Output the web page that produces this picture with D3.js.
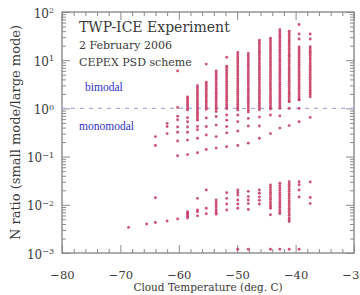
<!DOCTYPE html>
<html><head><meta charset="utf-8">
<script src="https://cdn.jsdelivr.net/npm/d3@7"></script>
<style>
html,body{margin:0;padding:0;background:#fff;}
svg{display:block;}
</style></head>
<body>
<svg id="chart" width="360" height="295"></svg>
<script>
// ---- data ----
const temperatures = [-68.6, -65.5, -64.0, -62.0, -60.2, -58.5, -56.8, -55.3, -53.6, -51.8, -49.9, -48.1, -46.2, -44.3, -42.7, -41.1, -39.4, -37.5];
const ratioColumns = [
  [0.0034],
  [0.0040],
  [0.26, 0.17, 0.014, 0.0043],
  [0.49, 0.42, 0.30, 0.0046],
  [6.0, 1.05, 0.69, 0.58, 0.41, 0.32, 0.21, 0.104, 0.0051],
  [1.73, 1.6, 1.46, 1.33, 1.21, 1.1, 1.0, 0.93, 0.64, 0.53, 0.41, 0.32, 0.22, 0.11, 0.0072, 0.0067, 0.0062, 0.0057, 0.0053],
  [2.95, 2.68, 2.42, 2.2, 2.0, 1.82, 1.65, 1.5, 1.36, 1.23, 1.12, 1.02, 0.92, 0.83, 0.76, 0.69, 0.62, 0.57, 0.42, 0.36, 0.24, 0.12, 0.0136, 0.0078, 0.0072, 0.0059],
  [8.3, 3.5, 3.15, 2.85, 2.6, 2.35, 2.12, 1.92, 1.74, 1.57, 1.42, 1.29, 1.17, 1.06, 0.96, 0.63, 0.42, 0.28, 0.14, 0.0203, 0.0085, 0.0065],
  [6.0, 5.4, 4.9, 4.4, 4.0, 3.6, 3.25, 2.95, 2.65, 2.4, 2.17, 1.96, 1.77, 1.6, 1.45, 1.31, 1.18, 1.07, 0.97, 0.86, 0.68, 0.45, 0.26, 0.15, 0.0126, 0.0112, 0.0099, 0.0088, 0.0078, 0.0070, 0.0064],
  [11.5, 7.5, 6.8, 6.1, 5.5, 5.0, 4.5, 4.05, 3.65, 3.3, 2.98, 2.7, 2.43, 2.2, 1.98, 1.79, 1.62, 1.46, 1.32, 1.19, 1.08, 0.98, 0.73, 0.57, 0.42, 0.31, 0.16, 0.0178, 0.0136, 0.0104, 0.0078],
  [14.5, 13.1, 11.8, 10.6, 9.6, 8.7, 7.8, 7.05, 6.35, 5.75, 5.2, 4.7, 4.2, 3.8, 3.45, 3.1, 2.8, 2.52, 2.28, 2.05, 1.85, 1.67, 1.5, 1.36, 1.22, 1.1, 1.0, 0.93, 0.73, 0.53, 0.34, 0.17, 0.0203, 0.018, 0.016, 0.0126, 0.0104, 0.0085, 0.0012],
  [13.8, 12.4, 11.2, 10.1, 9.1, 8.2, 7.4, 6.65, 6.0, 5.4, 4.9, 4.4, 3.95, 3.57, 3.22, 2.9, 2.6, 2.35, 2.12, 1.91, 1.72, 1.55, 1.4, 1.26, 1.14, 1.03, 0.93, 0.84, 0.62, 0.43, 0.19, 0.019, 0.0148, 0.0126, 0.0106, 0.0080, 0.0012],
  [26, 23.4, 21.1, 19, 17.1, 15.4, 13.9, 12.5, 11.3, 10.2, 9.2, 8.3, 7.5, 6.75, 6.1, 5.5, 4.95, 4.45, 4.0, 3.6, 3.25, 2.93, 2.64, 2.38, 2.15, 1.94, 1.75, 1.58, 1.42, 1.28, 1.15, 1.04, 0.94, 0.66, 0.43, 0.24, 0.0203, 0.0174, 0.0146, 0.0124, 0.0104],
  [28.5, 25.7, 23.1, 20.8, 18.8, 16.9, 15.2, 13.7, 12.4, 11.2, 10.1, 9.1, 8.2, 7.4, 6.65, 6.0, 5.4, 4.87, 4.4, 3.96, 3.57, 3.22, 2.9, 2.61, 2.36, 2.12, 1.91, 1.72, 1.55, 1.4, 1.26, 1.14, 1.03, 0.97, 0.73, 0.30, 0.0258, 0.023, 0.0205, 0.0183, 0.0163, 0.0146, 0.013, 0.0116, 0.0104, 0.0093, 0.0085, 0.0062, 0.0012],
  [43, 38.7, 34.9, 31.4, 28.3, 25.5, 23, 20.7, 18.7, 16.8, 15.2, 13.7, 12.3, 11.1, 10.0, 9.0, 8.1, 7.3, 6.6, 5.95, 5.35, 4.82, 4.35, 3.92, 3.53, 3.18, 2.87, 2.58, 2.33, 2.1, 1.89, 1.7, 1.53, 1.38, 1.25, 1.12, 1.01, 0.70, 0.39, 0.028, 0.025, 0.0223, 0.0199, 0.0177, 0.0158, 0.0141, 0.0126, 0.0112, 0.01, 0.0089, 0.0079, 0.0071, 0.0066, 0.0012],
  [40, 36, 32.5, 29.3, 26.4, 23.8, 21.4, 19.3, 17.4, 15.7, 14.1, 12.7, 11.5, 10.3, 9.3, 8.4, 7.55, 6.8, 6.15, 5.55, 5.0, 4.5, 4.05, 3.65, 3.3, 2.97, 2.68, 2.41, 2.17, 1.96, 1.77, 1.59, 1.43, 1.37, 1.0, 0.44, 0.030, 0.0268, 0.0239, 0.0213, 0.019, 0.017, 0.0152, 0.0135, 0.012, 0.0107, 0.0096, 0.0085, 0.0076, 0.0068, 0.0061, 0.0054, 0.0049, 0.0045, 0.0012],
  [55, 35, 27.5, 18.8, 17, 15.3, 13.8, 12.4, 11.2, 10.1, 9.1, 8.2, 7.4, 6.65, 6.0, 5.4, 4.87, 4.4, 3.96, 3.57, 3.22, 2.9, 2.61, 2.36, 2.12, 1.91, 1.72, 1.55, 1.49, 1.0, 0.53, 0.030, 0.026, 0.0203, 0.0145, 0.0012],
  [35, 27.5, 19, 17.1, 15.4, 13.9, 12.5, 11.3, 10.2, 9.2, 8.3, 7.5, 6.75, 6.1, 5.5, 4.95, 4.45, 4.0, 3.6, 3.25, 2.93, 2.64, 2.38, 2.15, 1.94, 1.75, 0.65, 0.0297, 0.0142, 0.0106]
];
const xMajorTicks = [-80, -70, -60, -50, -40, -30];
const yMajorTicks = [1e-3, 1e-2, 1e-1, 1e0, 1e1, 1e2];
const yExponents = ["−3", "−2", "−1", "0", "1", "2"];
const titleLines = ["TWP-ICE Experiment", "2 February 2006", "CEPEX PSD scheme"];
const regimeLabels = ["bimodal", "monomodal"];
const thresholdRatio = 1;

// ---- layout ----
const svg = d3.select("#chart");
const L = 62, R = 354, T = 12, B = 253;
const x = d3.scaleLinear().domain([-80, -30]).range([L, R]);
const y = d3.scaleLog().domain([1e-3, 1e2]).range([B, T]);

const frameColor = "#8a8a8a";
const textColor = "#3a3a3a";
const serif = "'DejaVu Serif', serif";

const xMinor = d3.range(-80, -29, 2).filter(v => v % 10 !== 0);
const yMinor = [];
[-3, -2, -1, 0, 1].forEach(k => { for (let m = 2; m <= 9; m++) yMinor.push(m * Math.pow(10, k)); });

function styleAxis(g) {
  g.select(".domain").remove();
  g.selectAll(".tick line").attr("stroke", frameColor).attr("stroke-width", 1);
}

// minor ticks
svg.append("g").attr("transform", `translate(0,${B})`)
  .call(d3.axisBottom(x).tickValues(xMinor).tickSize(-4).tickFormat("")).call(styleAxis);
svg.append("g").attr("transform", `translate(0,${T})`)
  .call(d3.axisTop(x).tickValues(xMinor).tickSize(-4).tickFormat("")).call(styleAxis);
svg.append("g").attr("transform", `translate(${L},0)`)
  .call(d3.axisLeft(y).tickValues(yMinor).tickSize(-4).tickFormat("")).call(styleAxis);
svg.append("g").attr("transform", `translate(${R},0)`)
  .call(d3.axisRight(y).tickValues(yMinor).tickSize(-4).tickFormat("")).call(styleAxis);

// major ticks
const xb = svg.append("g").attr("transform", `translate(0,${B})`)
  .call(d3.axisBottom(x).tickValues(xMajorTicks).tickSize(-8).tickPadding(18).tickFormat(d3.format("d"))).call(styleAxis);
xb.selectAll("text").attr("fill", textColor).attr("font-family", serif).attr("font-size", 11.5);
svg.append("g").attr("transform", `translate(0,${T})`)
  .call(d3.axisTop(x).tickValues(xMajorTicks).tickSize(-8).tickFormat("")).call(styleAxis);
const yl = svg.append("g").attr("transform", `translate(${L},0)`)
  .call(d3.axisLeft(y).tickValues(yMajorTicks).tickSize(-8).tickPadding(8).tickFormat("")).call(styleAxis);
yl.selectAll(".tick").each(function(d, i) {
  const t = d3.select(this).append("text")
    .attr("x", -8).attr("dy", "0.42em").attr("text-anchor", "end")
    .attr("fill", textColor).attr("font-family", serif).attr("font-size", 12);
  t.append("tspan").text("10");
  t.append("tspan").attr("dy", "-0.55em").attr("font-size", 8).text(yExponents[i]);
});
svg.append("g").attr("transform", `translate(${R},0)`)
  .call(d3.axisRight(y).tickValues(yMajorTicks).tickSize(-8).tickFormat("")).call(styleAxis);

// frame
svg.append("rect").attr("x", L).attr("y", T).attr("width", R - L).attr("height", B - T)
  .attr("fill", "none").attr("stroke", frameColor).attr("stroke-width", 1.4);

// threshold dashed line
svg.append("line").attr("x1", L).attr("x2", R).attr("y1", y(thresholdRatio)).attr("y2", y(thresholdRatio))
  .attr("stroke", "#a7aee6").attr("stroke-width", 1.3).attr("stroke-dasharray", "4,5");

// points
const points = [];
temperatures.forEach((t, i) => ratioColumns[i].forEach(r => points.push({t, r})));
svg.append("g").selectAll("circle").data(points).enter().append("circle")
  .attr("cx", d => x(d.t)).attr("cy", d => y(d.r)).attr("r", 1.45)
  .attr("fill", "#c4345e").attr("fill-opacity", 0.85);

// annotation text
const titleSizes = [14, 11, 11];
const titleY = [32, 49, 66];
titleLines.forEach((s, i) => {
  svg.append("text").attr("x", 79).attr("y", titleY[i]).attr("fill", textColor)
    .attr("font-family", serif).attr("font-size", titleSizes[i]).text(s);
});
svg.append("text").attr("x", 85).attr("y", 91).attr("fill", "#3030c8")
  .attr("font-family", "'Liberation Serif', serif").attr("font-size", 11.5).text(regimeLabels[0]);
svg.append("text").attr("x", 79).attr("y", 130).attr("fill", "#3030c8")
  .attr("font-family", "'Liberation Serif', serif").attr("font-size", 11.5).text(regimeLabels[1]);

// axis titles
svg.append("text").attr("x", (L + R) / 2).attr("y", 291).attr("text-anchor", "middle")
  .attr("fill", textColor).attr("font-family", serif).attr("font-size", 10.5).text("Cloud Temperature (deg. C)");
svg.append("text").attr("transform", `translate(20,${(T + B) / 2}) rotate(-90)`).attr("text-anchor", "middle")
  .attr("fill", textColor).attr("font-family", serif).attr("font-size", 13).text("N ratio (small mode/large mode)");
</script>
</body></html>
